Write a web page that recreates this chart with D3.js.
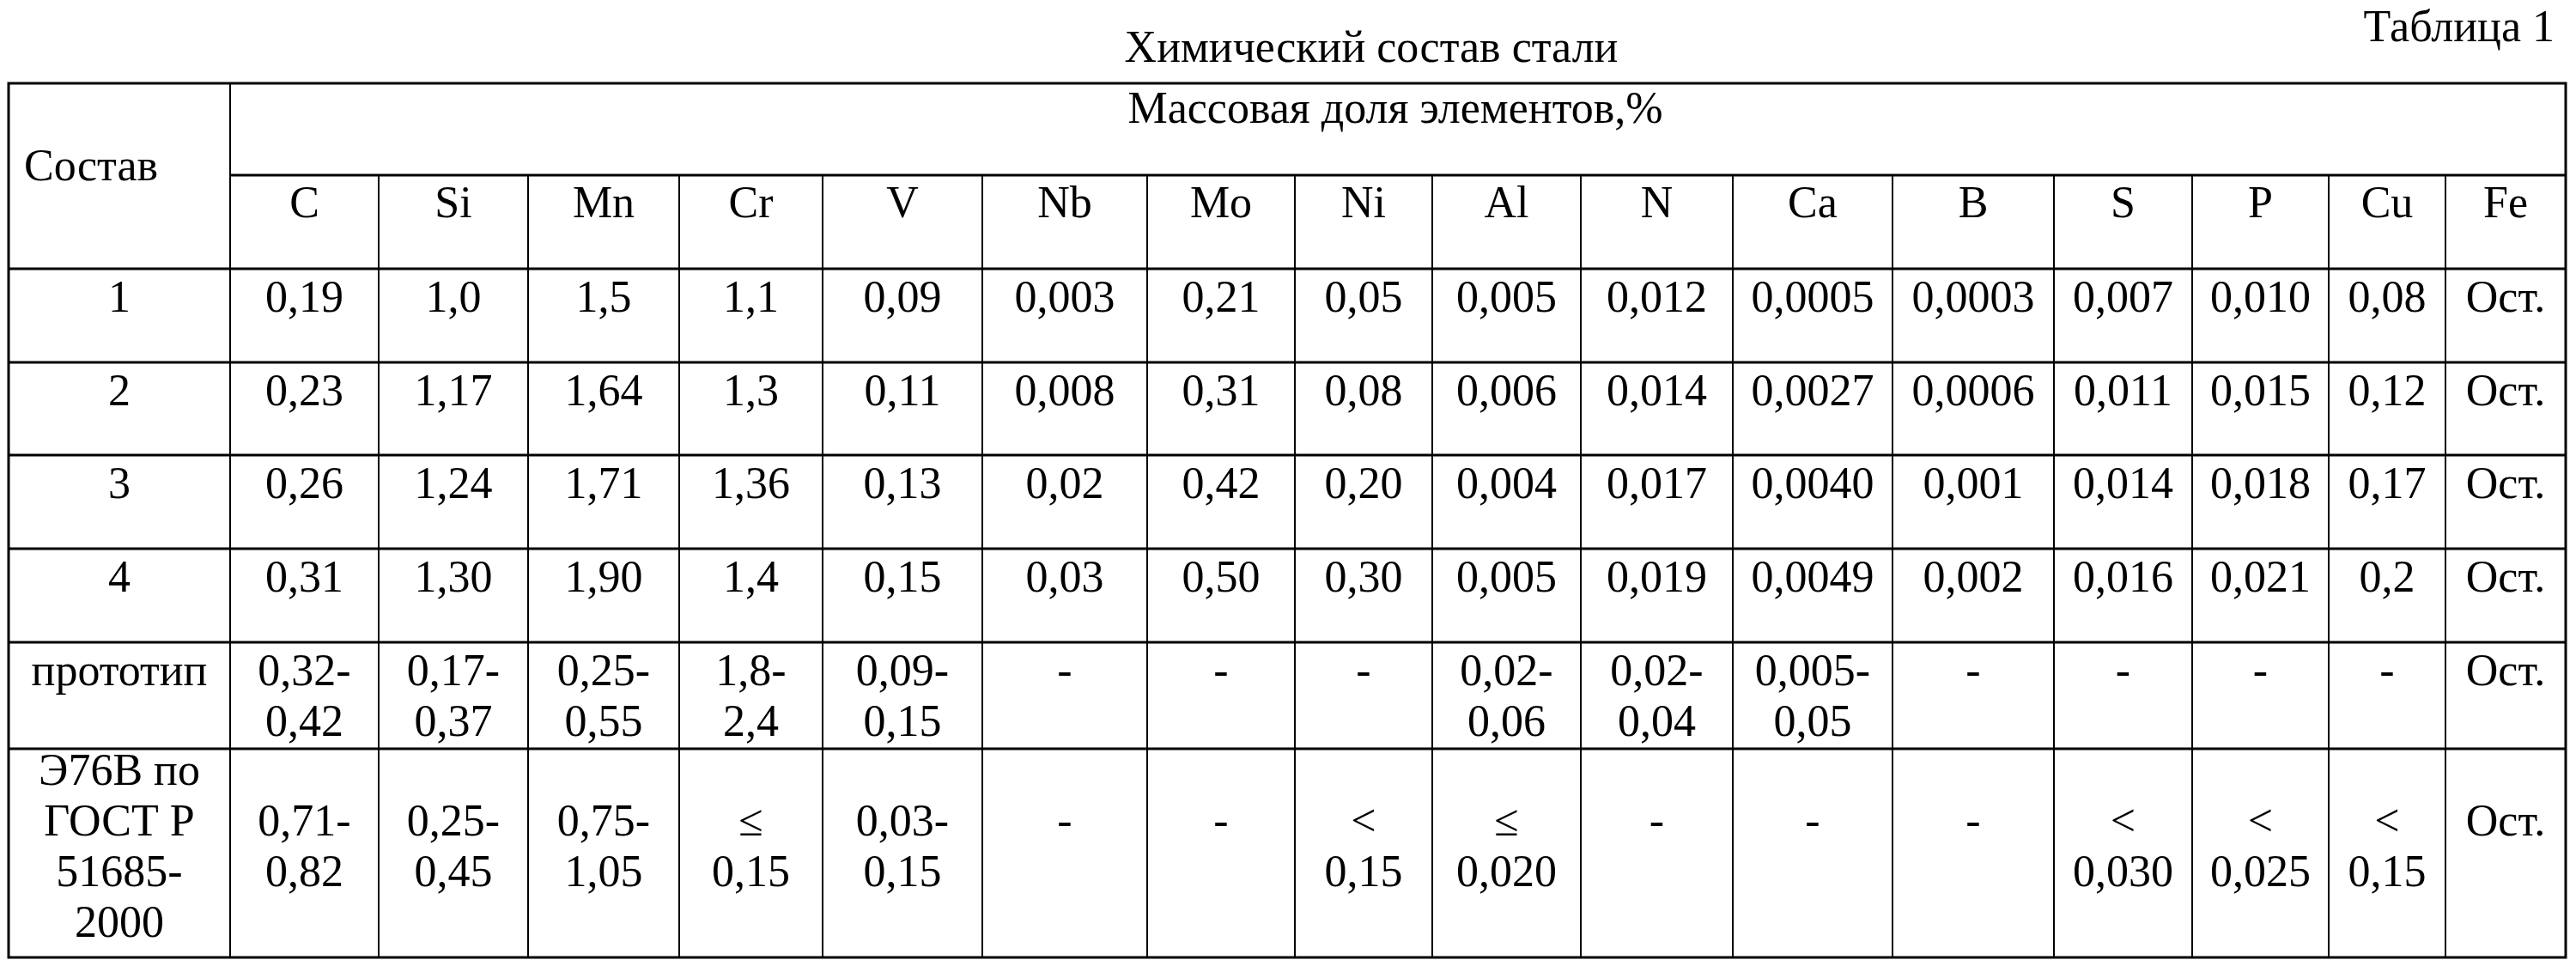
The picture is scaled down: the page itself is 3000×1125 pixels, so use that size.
<!DOCTYPE html>
<html>
<head>
<meta charset="utf-8">
<script src="https://cdn.jsdelivr.net/npm/d3@7"></script>
<style>
  body { margin: 0; background: #fff; }
  text { font-family: "Liberation Serif", "DejaVu Serif", serif; fill: #000; }
</style>
</head>
<body>
<script>
const title = "Химический состав стали";
const tableLabel = "Таблица 1";
const groupHeader = "Массовая доля элементов,%";
const firstHeader = "Состав";
const elements = ["C", "Si", "Mn", "Cr", "V", "Nb", "Mo", "Ni", "Al", "N", "Ca", "B", "S", "P", "Cu", "Fe"];

const rowNames = ["1", "2", "3", "4", "прототип", "Э76В по\nГОСТ Р\n51685-\n2000"];
const row1 = ["0,19", "1,0", "1,5", "1,1", "0,09", "0,003", "0,21", "0,05", "0,005", "0,012", "0,0005", "0,0003", "0,007", "0,010", "0,08", "Ост."];
const row2 = ["0,23", "1,17", "1,64", "1,3", "0,11", "0,008", "0,31", "0,08", "0,006", "0,014", "0,0027", "0,0006", "0,011", "0,015", "0,12", "Ост."];
const row3 = ["0,26", "1,24", "1,71", "1,36", "0,13", "0,02", "0,42", "0,20", "0,004", "0,017", "0,0040", "0,001", "0,014", "0,018", "0,17", "Ост."];
const row4 = ["0,31", "1,30", "1,90", "1,4", "0,15", "0,03", "0,50", "0,30", "0,005", "0,019", "0,0049", "0,002", "0,016", "0,021", "0,2", "Ост."];
const prototype = ["0,32-\n0,42", "0,17-\n0,37", "0,25-\n0,55", "1,8-\n2,4", "0,09-\n0,15", "-", "-", "-", "0,02-\n0,06", "0,02-\n0,04", "0,005-\n0,05", "-", "-", "-", "-", "Ост."];
const e76v = ["0,71-\n0,82", "0,25-\n0,45", "0,75-\n1,05", "≤\n0,15", "0,03-\n0,15", "-", "-", "<\n0,15", "≤\n0,020", "-", "-", "-", "<\n0,030", "<\n0,025", "<\n0,15", "Ост."];
const rows = [row1, row2, row3, row4, prototype, e76v];

// layout
const width = 3000, height = 1125;
const colEdges = [10, 268, 441, 615, 791, 958, 1144, 1336, 1508, 1668, 1841, 2018, 2204, 2392, 2553, 2712, 2848, 2988];
const headTop = 97, headMid = 204, headBottom = 313;
const rowEdges = [313, 422, 530, 639, 748, 872, 1115];
const lineH = 59;
const fontSize = 52;

const x = i => colEdges[i];
const cx = i => (colEdges[i] + colEdges[i + 1]) / 2;

const svg = d3.select("body").append("svg")
  .attr("width", width)
  .attr("height", height);

svg.append("text")
  .attr("x", 1597).attr("y", 72)
  .attr("text-anchor", "middle")
  .style("font-size", fontSize + "px")
  .text(title);

svg.append("text")
  .attr("x", 2975).attr("y", 48)
  .attr("text-anchor", "end")
  .style("font-size", fontSize + "px")
  .text(tableLabel);

const grid = svg.append("g")
  .attr("stroke", "#000")
  .attr("fill", "none");

// outer border
grid.append("rect")
  .attr("x", colEdges[0]).attr("y", headTop)
  .attr("width", colEdges[colEdges.length - 1] - colEdges[0])
  .attr("height", rowEdges[rowEdges.length - 1] - headTop)
  .attr("stroke-width", 3);

// horizontal lines
grid.append("line")
  .attr("x1", x(1)).attr("x2", x(colEdges.length - 1))
  .attr("y1", headMid).attr("y2", headMid)
  .attr("stroke-width", 3);
grid.selectAll("line.h")
  .data(rowEdges.slice(0, -1))
  .join("line")
  .attr("class", "h")
  .attr("x1", x(0)).attr("x2", x(colEdges.length - 1))
  .attr("y1", d => d).attr("y2", d => d)
  .attr("stroke-width", 3);

// vertical lines
grid.append("line")
  .attr("x1", x(1)).attr("x2", x(1))
  .attr("y1", headTop).attr("y2", rowEdges[rowEdges.length - 1])
  .attr("stroke-width", 2);
grid.selectAll("line.v")
  .data(d3.range(2, colEdges.length - 1))
  .join("line")
  .attr("class", "v")
  .attr("x1", d => x(d)).attr("x2", d => x(d))
  .attr("y1", headMid).attr("y2", rowEdges[rowEdges.length - 1])
  .attr("stroke-width", 2);

const txt = svg.append("g").style("font-size", fontSize + "px");

txt.append("text")
  .attr("x", x(0) + 18).attr("y", 210)
  .text(firstHeader);

txt.append("text")
  .attr("x", 1625).attr("y", 143)
  .attr("text-anchor", "middle")
  .text(groupHeader);

txt.selectAll("text.el")
  .data(elements)
  .join("text")
  .attr("class", "el")
  .attr("x", (d, i) => cx(i + 1))
  .attr("y", 253)
  .attr("text-anchor", "middle")
  .text(d => d);

function cell(str, col, r, startLine, firstOff) {
  const t = txt.append("text").attr("text-anchor", "middle");
  str.split("\n").forEach((s, k) => {
    t.append("tspan")
      .attr("x", cx(col))
      .attr("y", rowEdges[r] + firstOff + (startLine + k) * lineH)
      .text(s);
  });
}

rows.forEach((vals, r) => {
  const last = r === rows.length - 1;
  const off = last ? 42 : 50;
  cell(rowNames[r], 0, r, 0, off);
  vals.forEach((v, i) => cell(v, i + 1, r, last ? 1 : 0, off));
});
</script>
</body>
</html>
